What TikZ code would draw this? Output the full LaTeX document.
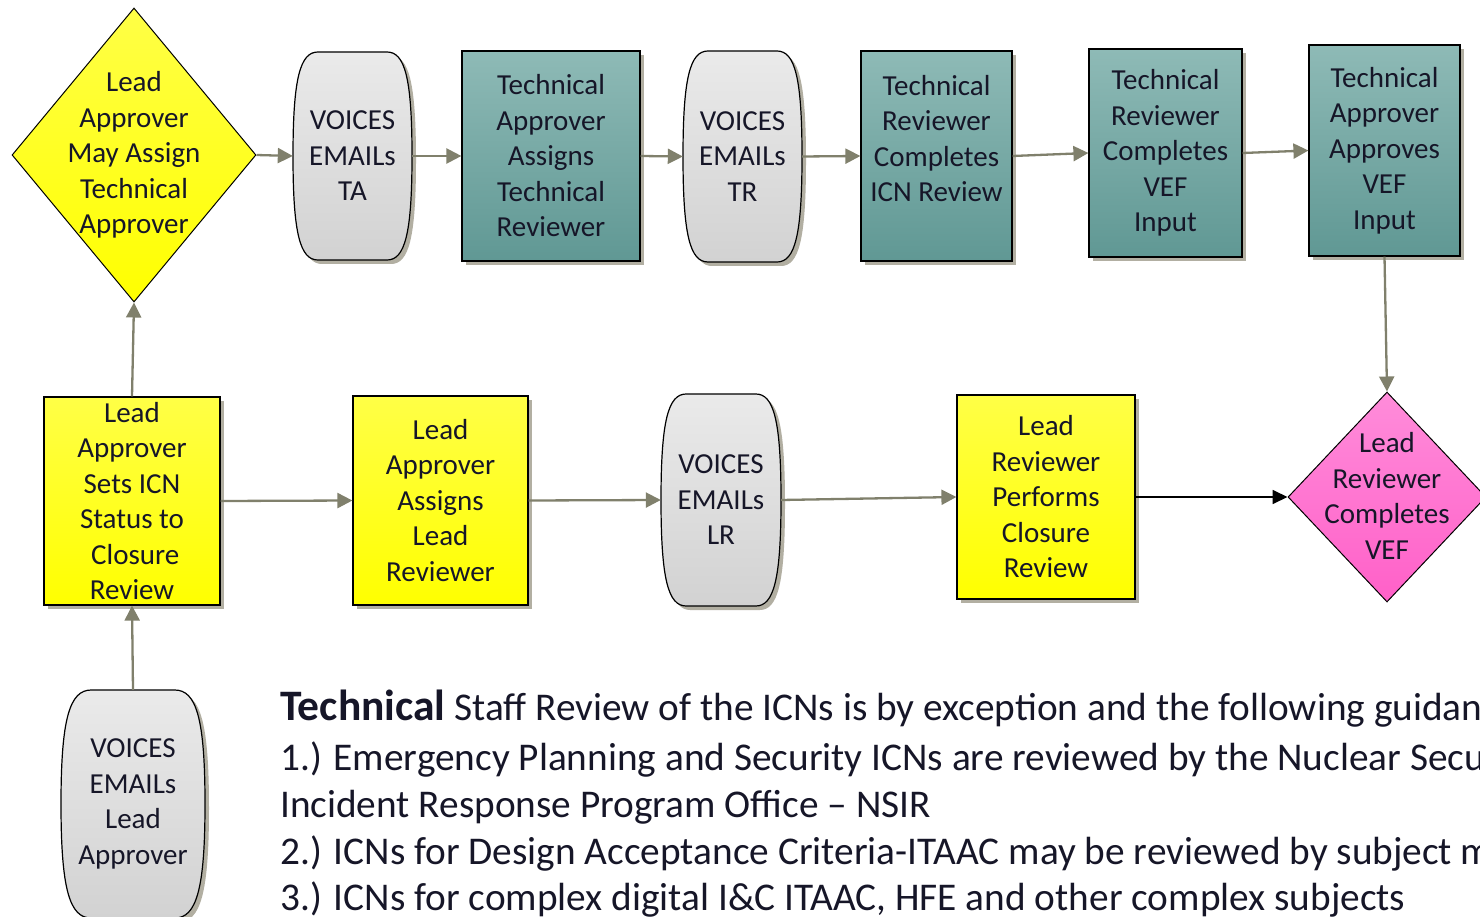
\documentclass[tikz,border=0pt]{standalone}
\usepackage{fontspec}
\setmainfont{Carlito}
\usetikzlibrary{arrows.meta,shapes.geometric,shadows}
\definecolor{txtc}{RGB}{22,22,40}
\definecolor{arr}{RGB}{128,128,108}
\definecolor{tealtop}{RGB}{142,186,182}
\definecolor{tealbot}{RGB}{96,152,148}
\definecolor{yeltop}{RGB}{255,255,70}
\definecolor{yelbot}{RGB}{255,255,0}
\definecolor{graytop}{RGB}{234,234,234}
\definecolor{graybot}{RGB}{210,210,210}
\definecolor{pinktop}{RGB}{255,140,218}
\definecolor{pinkbot}{RGB}{255,96,200}
\definecolor{shad}{RGB}{178,175,162}
\tikzset{
  txt/.style={font=\fontsize{29}{35.5}\selectfont, align=center, text=txtc, inner sep=0pt},
  shadowed/.style={drop shadow={shadow xshift=4pt, shadow yshift=-4pt, fill=shad, opacity=1}},
  box/.style={txt, draw=black, line width=1.2pt, shadowed},
  tealbox/.style={box, top color=tealtop, bottom color=tealbot},
  yelbox/.style={box, top color=yeltop, bottom color=yelbot},
  dia/.style={diamond, draw=black, line width=1pt, inner sep=0pt},
  barrel/.style={draw=black, line width=1.2pt, top color=graytop, bottom color=graybot, shadowed},
  flow/.style={draw=arr, line width=2.3pt, -{Triangle[length=15pt,width=15pt]}},
  blackflow/.style={draw=black, line width=1.8pt, -{Triangle[length=15pt,width=14pt]}},
  note/.style={anchor=base west, inner sep=0pt, text=txtc, font=\fontsize{39.3}{47}\selectfont},
}
\newcommand{\barrelnode}[6]{%
  \path[barrel] ({#2-0.58*#4},{#3-#5}) -- ({#2+0.58*#4},{#3-#5})
    .. controls ({#2+0.88*#4},{#3-#5}) and ({#2+#4},{#3-0.75*#5}) .. ({#2+#4},#3)
    .. controls ({#2+#4},{#3+0.75*#5}) and ({#2+0.88*#4},{#3+#5}) .. ({#2+0.58*#4},{#3+#5})
    -- ({#2-0.58*#4},{#3+#5})
    .. controls ({#2-0.88*#4},{#3+#5}) and ({#2-#4},{#3+0.75*#5}) .. ({#2-#4},#3)
    .. controls ({#2-#4},{#3-0.75*#5}) and ({#2-0.88*#4},{#3-#5}) .. cycle;
  \node[txt, minimum width={2*#4pt}, minimum height={2*#5pt}] (#1) at (#2,#3) {#6};
}
\begin{document}
\begin{tikzpicture}[x=1pt,y=-1pt]
\clip (0,0) rectangle (1480,917);
\fill[white] (0,0) rectangle (1480,917);

% top row
\node[dia, minimum width=244pt, minimum height=294pt, top color=yeltop, bottom color=yelbot] (d1) at (134,155) {};
\node[txt] (d1t) at (134,155) {Lead\\Approver\\May Assign\\Technical\\Approver};
\barrelnode{vta}{352.5}{156}{59.5}{104}{VOICES\\EMAILs\\TA}
\node[tealbox, minimum width=178pt, minimum height=210pt] (t1) at (551,156) {Technical\\Approver\\Assigns\\Technical\\Reviewer};
\barrelnode{vtr}{742.5}{156.5}{59.5}{105.5}{VOICES\\EMAILs\\TR}
\node[tealbox, minimum width=151pt, minimum height=210pt] (t2) at (936.5,156) {Technical\\Reviewer\\Completes\\ICN Review\\~};
\node[tealbox, minimum width=153pt, minimum height=208pt] (t3) at (1165.5,153) {Technical\\Reviewer\\Completes\\VEF\\Input};
\node[tealbox, minimum width=151pt, minimum height=211pt] (t4) at (1384.5,150.5) {Technical\\Approver\\Approves\\VEF\\Input};

% middle row
\node[yelbox, minimum width=176pt, minimum height=208pt] (b12) at (132,501) {Lead\\Approver\\Sets ICN\\Status to\\\ Closure\\Review};
\node[yelbox, minimum width=175pt, minimum height=209pt] (b11) at (440.5,500.5) {Lead\\Approver\\Assigns\\Lead\\Reviewer};
\barrelnode{vlr}{721}{500}{60}{106}{VOICES\\EMAILs\\LR}
\node[yelbox, minimum width=178pt, minimum height=204pt] (b9) at (1046,497) {Lead\\Reviewer\\Performs\\Closure\\Review};
\node[dia, minimum width=198pt, minimum height=210pt, top color=pinktop, bottom color=pinkbot] (pk) at (1387,497) {};
\node[txt] (pkt) at (1387,496) {Lead\\Reviewer\\Completes\\VEF};

% bottom
\barrelnode{vla}{133}{804}{72}{114}{VOICES\\EMAILs\\Lead\\Approver}

% connectors
\draw[flow] (d1.east) -- (vta.west);
\draw[flow] (vta.east) -- (t1.west);
\draw[flow] (t1.east) -- (vtr.west);
\draw[flow] (vtr.east) -- (t2.west);
\draw[flow] (t2.east) -- (t3.west);
\draw[flow] (t3.east) -- (t4.west);
\draw[flow] (t4.south) -- (pk.north);
\draw[flow] (b12.north) -- (d1.south);
\draw[flow] (vla.north) -- (b12.south);
\draw[flow] (b12.east) -- (b11.west);
\draw[flow] (b11.east) -- (vlr.west);
\draw[flow] (vlr.east) -- (b9.west);
\draw[blackflow] (b9.east) -- (pk.west);

% note text
\node[note] (n1) at (280,720) {{\fontsize{43.5}{47}\selectfont\bfseries Technical} Staff Review of the ICNs is by exception and the following guidance};
\node[note] (n2) at (280,770) {1.) Emergency Planning and Security ICNs are reviewed by the Nuclear Security};
\node[note] (n3) at (280,817) {Incident Response Program Office – NSIR};
\node[note] (n4) at (280,864) {2.) ICNs for Design Acceptance Criteria-ITAAC may be reviewed by subject matter};
\node[note] (n5) at (280,910) {3.) ICNs for complex digital I\&C ITAAC, HFE and other complex subjects};
\end{tikzpicture}
\end{document}
